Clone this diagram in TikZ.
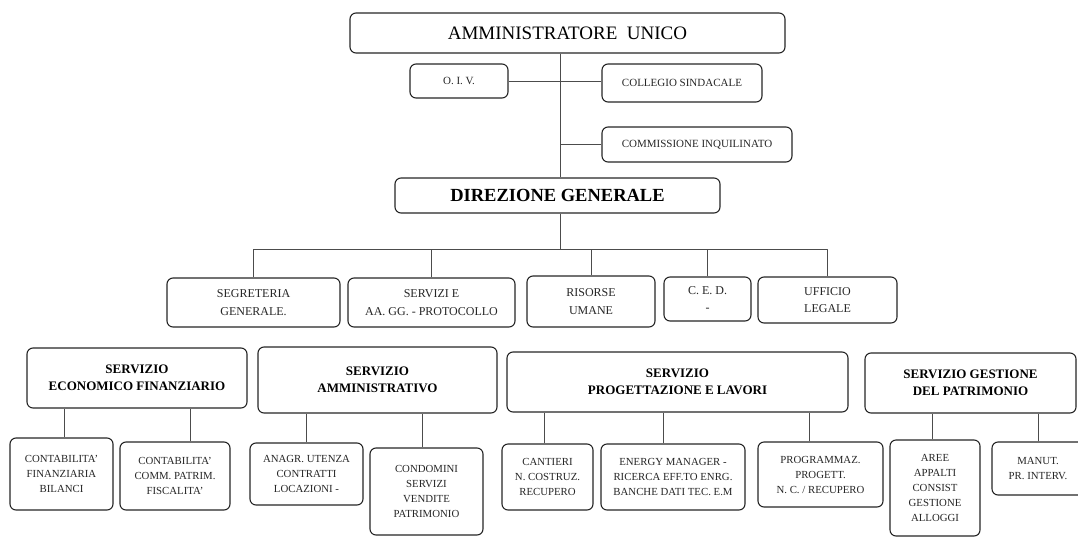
\documentclass[tikz,border=0pt]{standalone}
\usepackage{fontspec}
\setmainfont{Liberation Serif}
\usetikzlibrary{calc}

\begin{document}
\begin{tikzpicture}[x=1pt, y=-1pt, line join=round,
    box/.style={draw=black!85, line width=1.1pt, rounded corners=6pt, fill=white, align=center, inner sep=1pt, text=black!85},
    tiny/.style={box, font=\fontsize{10.8}{15}\selectfont},
    mid/.style={box, font=\fontsize{12}{17.5}\selectfont},
    head/.style={box, text=black, font=\fontsize{13}{17}\selectfont\bfseries},
    link/.style={draw=black!70, line width=0.8pt}]

        \useasboundingbox (0,0) rectangle (1078,538);
        \clip (0,0) rectangle (1078,538);

        % vertici
        \node[box, text=black, font=\fontsize{19}{22}\selectfont, minimum width=435, minimum height=40] (au) at (567.5,33) {AMMINISTRATORE\ \ UNICO};
        \node[box, font=\fontsize{11}{13}\selectfont, minimum width=98, minimum height=34] (oiv) at (459,81) {O. I. V.};
        \node[box, font=\fontsize{11}{13}\selectfont, minimum width=160, minimum height=38] (cs) at (682,83) {COLLEGIO SINDACALE};
        \node[box, font=\fontsize{11}{13}\selectfont, minimum width=190, minimum height=35] (ci) at (697,144.5) {COMMISSIONE INQUILINATO};
        \node[box, text=black, font=\fontsize{18.5}{22}\selectfont\bfseries, minimum width=325, minimum height=35] (dg) at (557.5,195.5) {DIREZIONE GENERALE};

        \coordinate (bus) at (560,249);

        % staff
        \node[mid, minimum width=173, minimum height=49] (seg) at (253.5,302.5) {SEGRETERIA\\GENERALE.};
        \node[mid, minimum width=167, minimum height=49] (srv) at (431.5,302.5) {SERVIZI E\\AA. GG. - PROTOCOLLO};
        \node[mid, minimum width=128, minimum height=51] (ru) at (591,301.5) {RISORSE\\UMANE};
        \node[mid, minimum width=87, minimum height=44] (ced) at (707.5,299) {C. E. D.\\-};
        \node[mid, minimum width=139, minimum height=46] (ul) at (827.5,300) {UFFICIO\\LEGALE};

        % servizi
        \node[head, minimum width=220, minimum height=60] (sef) at (137,378) {SERVIZIO\\ECONOMICO FINANZIARIO};
        \node[head, minimum width=239, minimum height=66] (sam) at (377.5,380) {SERVIZIO\\AMMINISTRATIVO};
        \node[head, minimum width=341, minimum height=60] (spl) at (677.5,382) {SERVIZIO\\PROGETTAZIONE E LAVORI};
        \node[head, minimum width=211, minimum height=60] (sgp) at (970.5,383) {SERVIZIO GESTIONE\\DEL PATRIMONIO};

        % uffici
        \node[tiny, minimum width=103, minimum height=72] (cf) at (61.5,474) {CONTABILITA'\\FINANZIARIA\\BILANCI};
        \node[tiny, minimum width=110, minimum height=68] (cc) at (175,476) {CONTABILITA'\\COMM. PATRIM.\\FISCALITA'};
        \node[tiny, minimum width=113, minimum height=62] (anu) at (306.5,474) {ANAGR. UTENZA\\CONTRATTI\\LOCAZIONI -};
        \node[tiny, minimum width=113, minimum height=87] (cond) at (426.5,491.5) {CONDOMINI\\SERVIZI\\VENDITE\\PATRIMONIO};
        \node[tiny, minimum width=91, minimum height=66] (cant) at (547.5,477) {CANTIERI\\N. COSTRUZ.\\RECUPERO};
        \node[tiny, minimum width=144, minimum height=66] (em) at (673,477) {ENERGY MANAGER -\\RICERCA EFF.TO ENRG.\\BANCHE DATI TEC. E.M};
        \node[tiny, minimum width=125, minimum height=65] (prog) at (820.5,474.5) {PROGRAMMAZ.\\PROGETT.\\N. C. / RECUPERO};
        \node[tiny, minimum width=90, minimum height=96] (aree) at (935,488) {AREE\\APPALTI\\CONSIST\\GESTIONE\\ALLOGGI};
        \node[tiny, minimum width=92, minimum height=53] (man) at (1038,468.5) {MANUT.\\PR. INTERV.};

        \draw[link] (au.south -| bus) -- (dg.north -| bus);
        \draw[link] (oiv.east) -- (oiv.east -| cs.west);
        \draw[link] (ci.west -| bus) -- (ci.west);
        \draw[link] (dg.south -| bus) -- (bus);

        \foreach \n in {seg,srv,ru,ced,ul} {
          \draw[link] (\n.north) |- (bus);
        }

        \foreach \p/\c/\s in {sef/cf/3, sef/cc/15, sam/anu/0, sam/cond/-4, spl/cant/-3, spl/em/-10, spl/prog/-11, sgp/aree/-3, sgp/man/0} {
          \draw[link] ([xshift=\s]\c.north) -- ([xshift=\s]\c.north |- \p.south);
        }

\end{tikzpicture}
\end{document}
